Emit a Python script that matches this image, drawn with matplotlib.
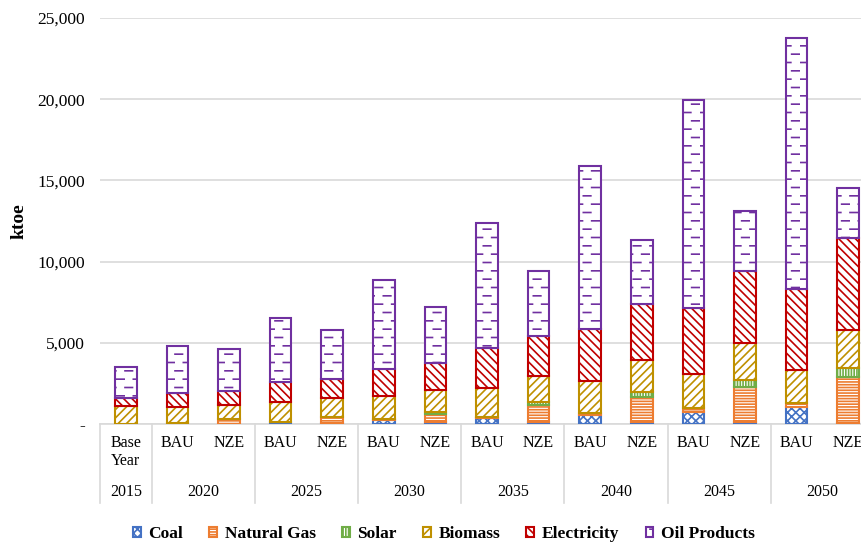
import numpy as np
import matplotlib
matplotlib.use("Agg")
import matplotlib.pyplot as plt
import matplotlib.hatch as mhatch
from matplotlib.path import Path
from matplotlib.patches import Patch

# ---------------- data ----------------
categories = ["Base\nYear", "BAU", "NZE", "BAU", "NZE", "BAU", "NZE", "BAU", "NZE",
              "BAU", "NZE", "BAU", "NZE", "BAU", "NZE"]
years = ["2015", "2020", "2025", "2030", "2035", "2040", "2045", "2050"]
year_members = [[0], [1, 2], [3, 4], [5, 6], [7, 8], [9, 10], [11, 12], [13, 14]]

coal = [20, 30, 30, 100, 60, 250, 140, 400, 150, 550, 100, 760, 100, 1070, 50]
natural_gas = [10, 20, 250, 30, 350, 30, 480, 50, 1000, 150, 1580, 210, 2160, 200, 2830]
solar = [0, 0, 20, 0, 30, 0, 100, 0, 200, 0, 310, 0, 450, 0, 550]
biomass = [1100, 1020, 870, 1240, 1140, 1470, 1370, 1790, 1630, 1970, 1950, 2090, 2260, 2060, 2360]
electricity = [490, 860, 860, 1200, 1170, 1650, 1650, 2420, 2460, 3160, 3430, 4100, 4470, 4980, 5640]
oil_products = [1910, 2870, 2570, 3930, 3040, 5440, 3480, 7690, 4000, 10060, 3960, 12790, 3700, 15460, 3120]

series_names = ["Coal", "Natural Gas", "Solar", "Biomass", "Electricity", "Oil Products"]
series_values = [coal, natural_gas, solar, biomass, electricity, oil_products]
series_colors = ["#4472C4", "#ED7D31", "#70AD47", "#BF9000", "#C00000", "#7030A0"]
series_hatches = ["xxxx", "------", "||||||", "////", "\\\\\\\\", "o"]


# ---------- custom "dashed horizontal" hatch (bound to 'o') ----------
class DashHatch(mhatch.HatchPatternBase):
    rows = 12
    cols = 6

    def __init__(self, hatch, density):
        self.on = hatch.count("o") > 0
        self.num_vertices = self.rows * self.cols * 2 if self.on else 0

    def set_vertices_and_codes(self, vertices, codes):
        k = 0
        dash = 0.45 / self.cols
        for r in range(self.rows):
            y = (r + 0.5) / self.rows
            off = 0.0 if r % 2 == 0 else 0.5 / self.cols
            for c in range(self.cols):
                x0 = c / self.cols + off
                vertices[k] = (x0, y)
                vertices[k + 1] = (x0 + dash, y)
                codes[k] = Path.MOVETO
                codes[k + 1] = Path.LINETO
                k += 2


mhatch._hatch_types = [DashHatch if t is mhatch.SmallCircles else t
                       for t in mhatch._hatch_types]

plt.rcParams["font.family"] = ["Liberation Serif", "DejaVu Serif"]
plt.rcParams["hatch.linewidth"] = 1.2

fig = plt.figure(figsize=(8.62, 5.44), dpi=100)
ax = fig.add_axes([100 / 862, 120 / 544, 774 / 862, 406 / 544])

x = np.arange(len(categories))
bottom = np.zeros(len(categories))
width = 0.42
for name, vals, col, h in zip(series_names, series_values, series_colors, series_hatches):
    vals = np.asarray(vals, dtype=float)
    ax.bar(x, vals, width, bottom=bottom, facecolor="white", edgecolor=col,
           linewidth=1.5, hatch=h, label=name, zorder=3)
    bottom += vals

ax.set_xlim(-0.5, len(categories) - 0.5)
ax.set_ylim(0, 25000)
ax.set_yticks(np.arange(0, 25001, 5000))
ax.set_yticklabels(["-" if v == 0 else f"{v:,}" for v in np.arange(0, 25001, 5000)],
                   fontsize=12.5)
ax.tick_params(axis="y", length=0, pad=11)
ax.set_xticks([])
ax.yaxis.grid(True, color="#D9D9D9", linewidth=1.2)
ax.set_axisbelow(True)
for s in ["left", "right", "top"]:
    ax.spines[s].set_visible(False)
ax.spines["bottom"].set_color("#D9D9D9")
ax.spines["bottom"].set_linewidth(1.2)

ax.set_ylabel("ktoe", fontsize=14, fontweight="bold")
ax.yaxis.set_label_coords(-0.094, 0.5)

tr = ax.get_xaxis_transform()
for i, lab in enumerate(categories):
    ax.text(i, -0.027, lab, transform=tr, ha="center", va="top",
            fontsize=11.5, linespacing=1.15)
for yr, mem in zip(years, year_members):
    ax.text(np.mean(mem), -0.167, yr, transform=tr, ha="center", va="center",
            fontsize=11.5)
# group separators
bounds = [-0.5] + [m[-1] + 0.5 for m in year_members]
for b in bounds:
    ax.plot([b, b], [0, -0.195], transform=tr, color="#D9D9D9", lw=1.2,
            clip_on=False, zorder=1)

handles = [Patch(facecolor="white", edgecolor=c, hatch=h, linewidth=1.5)
           for c, h in zip(series_colors, series_hatches)]
fig.legend(handles, series_names, loc="center", bbox_to_anchor=(0.515, 0.018),
           ncol=6, frameon=False, prop={"weight": "bold", "size": 12.5},
           handlelength=0.45, handleheight=0.45, handletextpad=0.45,
           columnspacing=1.5, borderpad=0)

fig.savefig("out.png", dpi=100)
